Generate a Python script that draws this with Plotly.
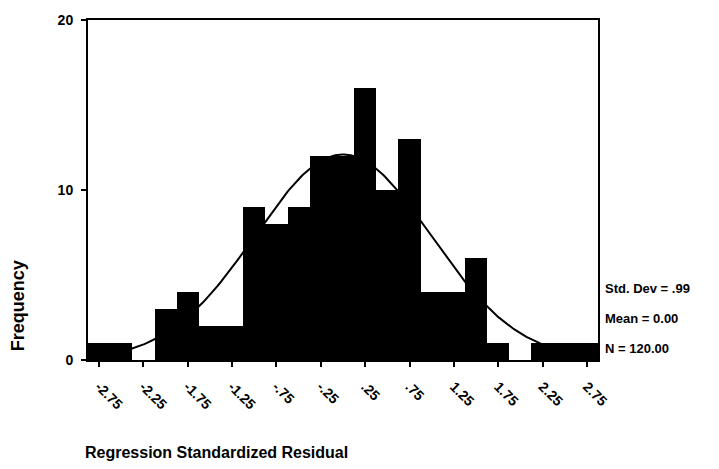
import numpy as np
import plotly.graph_objects as go

# Histogram of regression standardized residuals (bin width 0.25)
bin_mids = [-2.75, -2.5, -2.25, -2.0, -1.75, -1.5, -1.25, -1.0, -0.75, -0.5, -0.25, 0.0,
            0.25, 0.5, 0.75, 1.0, 1.25, 1.5, 1.75, 2.0, 2.25, 2.5, 2.75]
counts = [1, 1, 0, 3, 4, 2, 2, 9, 8, 9, 12, 12,
          16, 10, 13, 4, 4, 6, 1, 0, 1, 1, 1]
bin_width = 0.25

tick_vals = [-2.75, -2.25, -1.75, -1.25, -0.75, -0.25, 0.25, 0.75, 1.25, 1.75, 2.25, 2.75]
tick_text = ["-2.75", "-2.25", "-1.75", "-1.25", "-.75", "-.25", ".25", ".75",
             "1.25", "1.75", "2.25", "2.75"]

std_dev = 0.99
mean = 0.00
n_obs = 120

FONT = "Liberation Sans, Arial, Helvetica, sans-serif"

# Fitted normal curve scaled to counts per bin
x_lo = bin_mids[0] - bin_width / 2
x_hi = bin_mids[-1] + bin_width / 2
xs = np.linspace(x_lo, x_hi, 300)
ys = n_obs * bin_width * np.exp(-0.5 * ((xs - mean) / std_dev) ** 2) / (std_dev * np.sqrt(2 * np.pi))

fig = go.Figure()
# curve first so the solid bars sit over it
fig.add_trace(go.Scatter(x=xs, y=ys, mode="lines",
                         line=dict(color="black", width=2), showlegend=False))
fig.add_trace(go.Bar(x=bin_mids, y=counts, width=bin_width,
                     marker=dict(color="black", line=dict(width=0)),
                     showlegend=False))

fig.update_layout(
    width=719, height=469,
    margin=dict(l=88, r=121, t=17, b=109),
    paper_bgcolor="white", plot_bgcolor="white",
    bargap=0,
    font=dict(family=FONT, color="black", size=12, weight=700),
    xaxis=dict(range=[x_lo, x_hi], tickvals=tick_vals, ticktext=tick_text,
               tickangle=45, ticks="outside", ticklen=5, tickwidth=2, tickcolor="black",
               ticklabelstandoff=6,
               showgrid=False, zeroline=False, showline=True, linecolor="black",
               linewidth=2, mirror=True,
               tickfont=dict(family=FONT, size=14, color="black", weight=700)),
    yaxis=dict(range=[0, 20], tickvals=[0, 10, 20],
               ticks="outside", ticklen=5, tickwidth=2, tickcolor="black",
               ticklabelstandoff=5,
               showgrid=False, zeroline=False, showline=True, linecolor="black",
               linewidth=2, mirror=True,
               tickfont=dict(family=FONT, size=14, color="black", weight=700)),
)

# Axis titles
fig.add_annotation(text="Frequency", xref="paper", yref="paper",
                   x=-0.138, y=0.16, xanchor="center", yanchor="middle",
                   textangle=-90, showarrow=False,
                   font=dict(family=FONT, size=18, color="black", weight=700))
fig.add_annotation(text="Regression Standardized Residual", xref="paper", yref="paper",
                   x=-0.01, y=-0.272, xanchor="left", yanchor="middle", showarrow=False,
                   font=dict(family=FONT, size=16, color="black", weight=700))

# Summary statistics beside the plot
stats = [f"Std. Dev = {std_dev:.2f}".replace("0.", "."),
         f"Mean = {mean:.2f}",
         f"N = {n_obs:.2f}"]
for i, s in enumerate(stats):
    fig.add_annotation(text=s, xref="paper", yref="paper",
                       x=1.01, y=0.21 - i * 0.088, xanchor="left", yanchor="middle",
                       showarrow=False,
                       font=dict(family=FONT, size=13, color="black", weight=700))

fig.write_html("out.html")
